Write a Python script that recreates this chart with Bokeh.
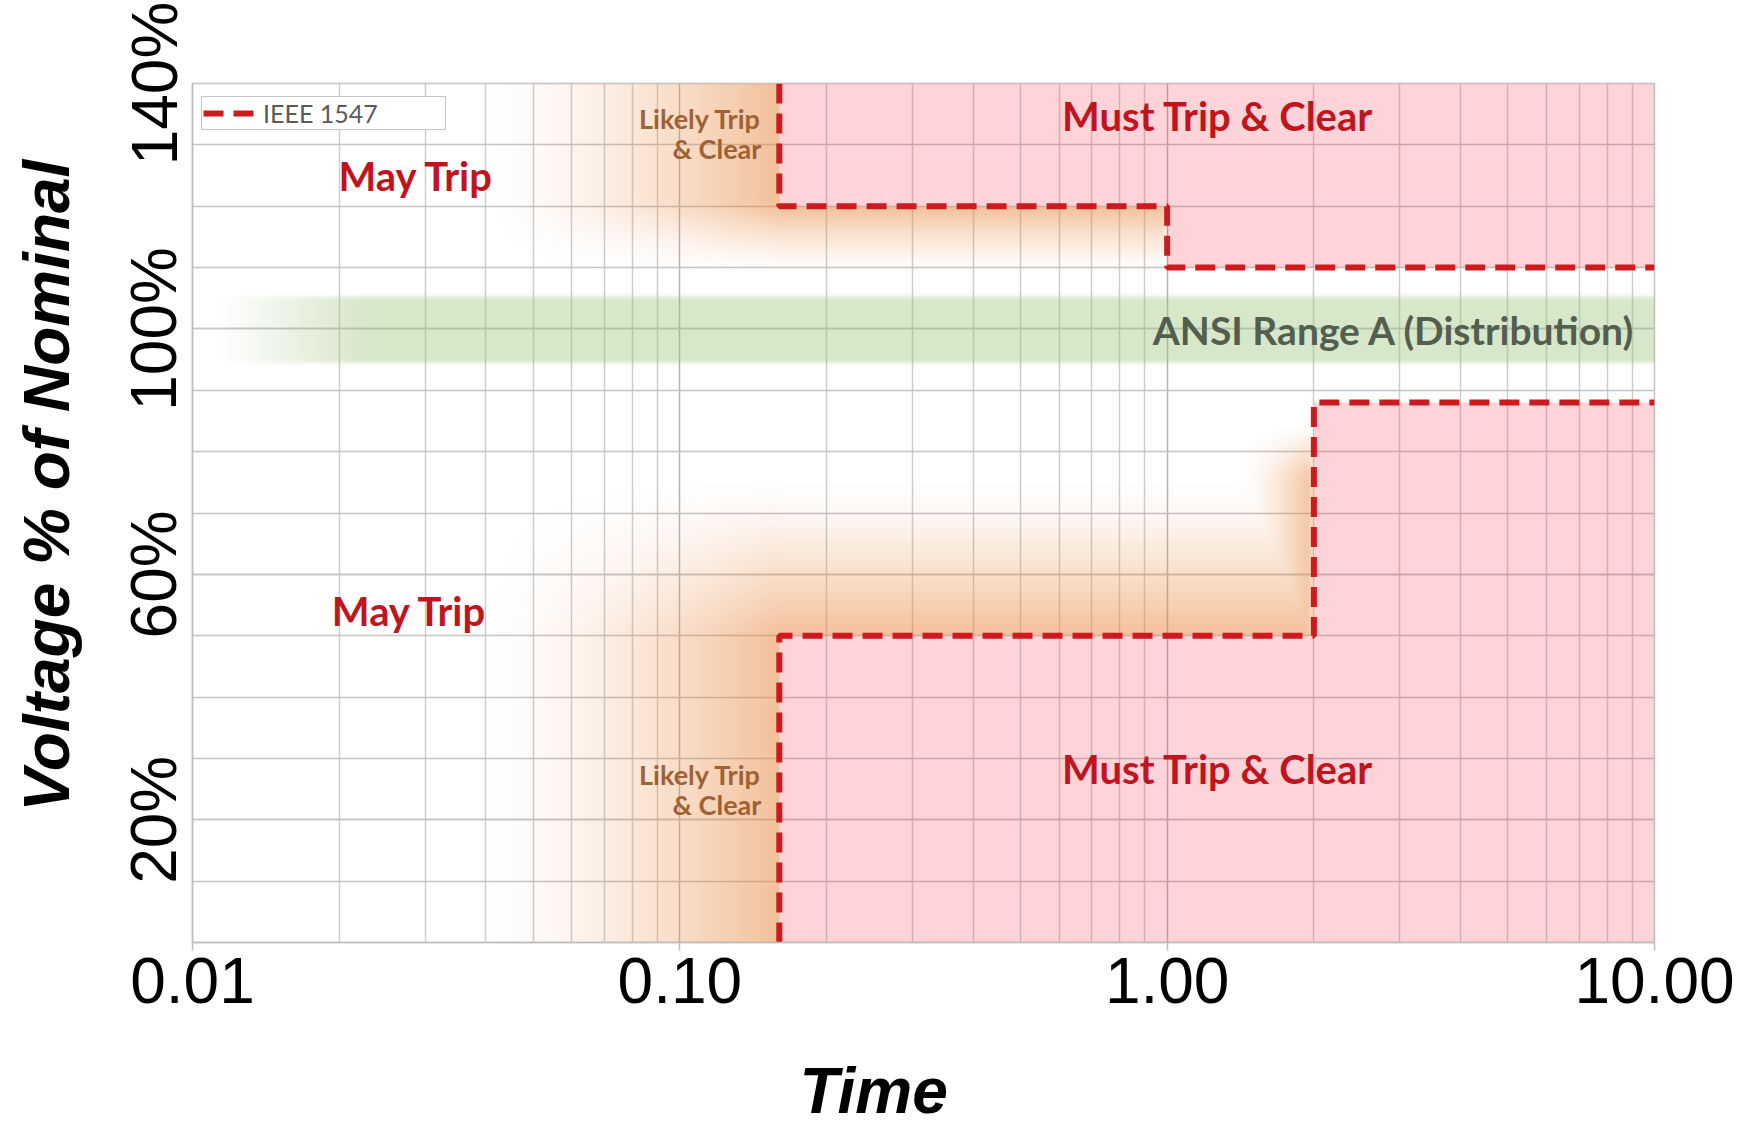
import numpy as np
from bokeh.plotting import figure
from bokeh.models import FixedTicker, Title, Legend, LegendItem, Range1d
from bokeh.core.properties import value
from bokeh.embed import file_html
from bokeh.resources import INLINE

# ---------------- data ----------------
time_ticks = [0.01, 0.1, 1.0, 10.0]
time_tick_labels = ["0.01", "0.10", "1.00", "10.00"]
time_minor = [0.02, 0.03, 0.04, 0.05, 0.06, 0.07, 0.08, 0.09,
              0.2, 0.3, 0.4, 0.5, 0.6, 0.7, 0.8, 0.9,
              2.0, 3.0, 4.0, 5.0, 6.0, 7.0, 8.0, 9.0]
volt_ticks = [20, 60, 100, 140]
volt_tick_labels = ["20%", "60%", "100%", "140%"]
volt_grid = [0, 10, 20, 30, 40, 50, 60, 70, 80, 90, 100, 110, 120, 130, 140]

# IEEE 1547 trip curves (time s, voltage % of nominal)
ov_time = [0.16, 0.16, 1.0, 1.0, 10.0]
ov_volt = [140, 120, 120, 110, 110]
uv_time = [0.16, 0.16, 2.0, 2.0, 10.0]
uv_volt = [0, 50, 50, 88, 88]
ansi_band = [94.6, 105.4]

big_labels = ["May Trip", "May Trip", "Must Trip & Clear", "Must Trip & Clear"]
big_x = [0.0288, 0.0279, 1.27, 1.27]
big_y = [125.0, 54.0, 134.7, 28.3]

likely_labels = ["Likely Trip", "& Clear", "Likely Trip", "& Clear"]
likely_x = [0.147, 0.147, 0.147, 0.147]
likely_y = [134.3, 129.4, 27.4, 22.5]

ansi_label = ["ANSI Range A (Distribution)"]
ansi_x = [9.15]
ansi_y = [99.8]

X0, X1 = 0.01, 10.0
Y0, Y1 = 0, 140

# ---------------- figure ----------------
p = figure(width=1741, height=1126, x_axis_type="log",
           x_range=Range1d(X0, X1), y_range=Range1d(Y0, Y1),
           output_backend="svg", toolbar_location=None,
           min_border_left=192, min_border_right=87,
           min_border_top=83, min_border_bottom=184)
p.background_fill_color = "white"
p.border_fill_color = "white"
p.outline_line_color = "#c4c4c4"
p.outline_line_width = 1.5

# ---------------- soft shaded zones (image) ----------------
def ramp(v, a, b):
    return np.clip((v - a) / (b - a), 0.0, 1.0)

def blur(a, sx, sy):
    def kern(s):
        r = int(3 * s)
        t = np.arange(-r, r + 1)
        g = np.exp(-t ** 2 / (2.0 * s * s))
        return g / g.sum()
    kx, ky = kern(sx), kern(sy)
    px, py = len(kx) // 2, len(ky) // 2
    a = np.pad(a, ((0, 0), (px, px)), mode="edge")
    a = np.apply_along_axis(lambda r: np.convolve(r, kx, mode="valid"), 1, a)
    a = np.pad(a, ((py, py), (0, 0)), mode="edge")
    a = np.apply_along_axis(lambda c: np.convolve(c, ky, mode="valid"), 0, a)
    return a

nx, ny = 1200, 560
uu = np.linspace(np.log10(X0), np.log10(X1), nx)
yy = np.linspace(Y0, Y1, ny)
U, Y = np.meshgrid(uu, yy)

uL = np.log10(ov_time[0])
u_ov = np.log10(ov_time[2])
u_uv = np.log10(uv_time[2])
ov_hi, ov_lo = ov_volt[1], ov_volt[3]
uv_lo, uv_hi = uv_volt[1], uv_volt[3]

# upper "likely trip" glow
Hu = np.where(U < uL, ramp(U, -1.42, uL) ** 1.5, 1.0)
Vu = np.where(Y >= ov_hi, 1.0, ramp(Y, ov_hi - 11, ov_hi) ** 1.4)
Fu = np.where(U > u_ov, 0.0, Hu * Vu)

# lower "likely trip" glow
Hl = np.where(U < uL, ramp(U, -1.42, uL) ** 1.5, 1.0)
Vl_left = np.where(Y <= uv_lo, 1.0, ramp(Y, 76, uv_lo) ** 1.3)
Vl_mid = ramp(Y, 76, uv_lo) ** 1.4
strip = ramp(U, u_uv - 0.15, u_uv) ** 1.5 * ramp(Y, 84, 76)
Fl = np.where(U < uL, Hl * Vl_left,
              np.where(U <= u_uv, np.maximum(Vl_mid, strip), 0.0))

orange_a = 0.52 * blur(np.maximum(Fu, Fl), 3, 3)
pink_up = (U >= uL) & (((U < u_ov) & (Y >= ov_hi)) | ((U >= u_ov) & (Y >= ov_lo)))
pink_dn = (U >= uL) & (((U < u_uv) & (Y <= uv_lo)) | ((U >= u_uv) & (Y <= uv_hi)))
orange_a[pink_up | pink_dn] = 0.0

green_a = 0.38 * blur(ramp(U, -1.95, -1.65) *
                      ((Y >= ansi_band[0]) & (Y <= ansi_band[1])), 2, 1.5)

img = np.zeros((ny, nx), dtype=np.uint32)
view = img.view(dtype=np.uint8).reshape((ny, nx, 4))
use_green = green_a > orange_a
view[:, :, 0] = np.where(use_green, 150, 232)
view[:, :, 1] = np.where(use_green, 190, 133)
view[:, :, 2] = np.where(use_green, 112, 58)
view[:, :, 3] = (np.maximum(orange_a, green_a) * 255).astype(np.uint8)
p.image_rgba(image=[img], x=X0, y=Y0, dw=X1 - X0, dh=Y1 - Y0)

# ---------------- must trip zones ----------------
p.varea(x=ov_time, y1=ov_volt, y2=[Y1] * len(ov_time),
        fill_color="#ff2a3a", fill_alpha=0.2)
p.varea(x=uv_time, y1=[Y0] * len(uv_time), y2=uv_volt,
        fill_color="#ff2a3a", fill_alpha=0.2)

# ---------------- trip curves ----------------
r_ov = p.line(ov_time, ov_volt, line_color="#cc1a1f", line_width=6,
              line_dash="20 10")
p.line(uv_time, uv_volt, line_color="#cc1a1f", line_width=6,
       line_dash="20 10")

# ---------------- annotations ----------------
p.text(x=big_x, y=big_y, text=big_labels, text_font=value("Lato"),
       text_font_style="bold", text_font_size="40px", text_color="#c0141e",
       text_align="center", text_baseline="middle")
p.text(x=likely_x, y=likely_y, text=likely_labels, text_font=value("Lato"),
       text_font_style="bold", text_font_size="27px", text_color="#9e6233",
       text_align="right", text_baseline="middle")
p.text(x=ansi_x, y=ansi_y, text=ansi_label, text_font=value("Lato"),
       text_font_style="bold", text_font_size="39px", text_color="#545e4f",
       text_align="right", text_baseline="middle")

# ---------------- legend ----------------
legend = Legend(items=[LegendItem(label="IEEE 1547", renderers=[r_ov])],
                location=(9, 812))
legend.padding = 1
legend.margin = 0
legend.glyph_width = 56
legend.glyph_height = 24
legend.label_height = 24
legend.label_standoff = 4
legend.label_width = 181
legend.label_text_font = "Lato"
legend.label_text_font_size = "25px"
legend.label_text_color = "#5a5a5a"
legend.border_line_color = "#8c8c8c"
legend.border_line_width = 1.5
legend.background_fill_color = "white"
legend.background_fill_alpha = 1.0
p.add_layout(legend)

# ---------------- axes and grid ----------------
p.xaxis.ticker = FixedTicker(ticks=time_ticks, minor_ticks=time_minor)
p.xaxis.major_label_overrides = dict(zip(time_ticks, time_tick_labels))
p.yaxis.ticker = FixedTicker(ticks=volt_ticks, minor_ticks=volt_grid)
p.yaxis.major_label_overrides = dict(zip(volt_ticks, volt_tick_labels))
p.yaxis.major_label_orientation = "vertical"

for ax in (p.xaxis, p.yaxis):
    ax.axis_line_color = "#bdbdbd"
    ax.axis_line_width = 1.5
    ax.major_tick_line_color = "#bdbdbd"
    ax.major_tick_line_width = 1.5
    ax.major_tick_in = 0
    ax.minor_tick_in = 0
    ax.minor_tick_out = 0
    ax.major_label_text_font = "Liberation Sans"
    ax.major_label_text_font_size = "64px"
    ax.major_label_text_color = "black"
p.xaxis.major_tick_out = 8
p.yaxis.major_tick_out = 0
p.xaxis.major_label_standoff = 7
p.yaxis.major_label_standoff = 2

p.xgrid.grid_line_color = "#b4b4b4"
p.xgrid.grid_line_width = 1.5
p.xgrid.minor_grid_line_color = "#cdcdcd"
p.xgrid.minor_grid_line_width = 1.5
p.ygrid.grid_line_color = "#c4c4c4"
p.ygrid.grid_line_width = 1.5
p.ygrid.minor_grid_line_color = "#c4c4c4"
p.ygrid.minor_grid_line_width = 1.5

# axis titles (a thin spacer panel sits between each axis and its title)
sp_x = Title(text=" ", standoff=44, text_font_size="1px")
p.add_layout(sp_x, "below")
t_x = Title(text="Time", align="left", offset=607, standoff=0,
            text_font="Liberation Sans", text_font_size="64px",
            text_font_style="bold italic", text_color="black")
p.add_layout(t_x, "below")
sp_y = Title(text=" ", standoff=30, text_font_size="1px")
p.add_layout(sp_y, "left")
t_y = Title(text="Voltage % of Nominal", align="left", offset=131, standoff=0,
            text_font="Liberation Sans", text_font_size="64px",
            text_font_style="bold italic", text_color="black")
p.add_layout(t_y, "left")

open("out.html", "w").write(file_html(p, INLINE))
